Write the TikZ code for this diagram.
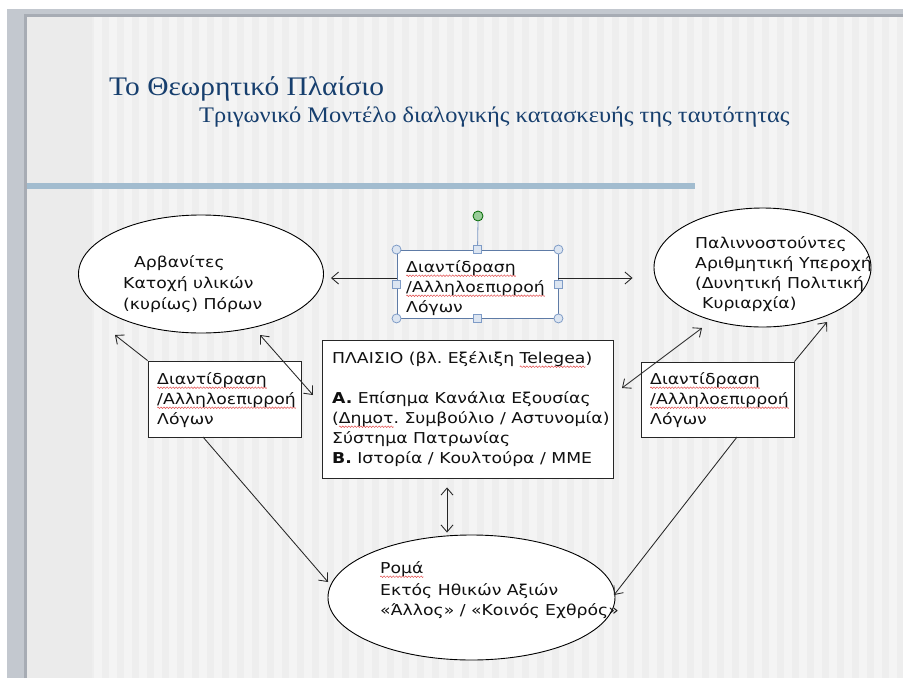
\documentclass[tikz,border=0pt]{standalone}
\usepackage{fontspec}
\setmainfont{DejaVu Sans}[FakeStretch=1.15]
\newfontfamily\titlefont{Liberation Serif}[FakeStretch=1.1]
\usetikzlibrary{arrows.meta,calc,shapes.geometric}
\newsavebox\wavebox
\newcommand\redwave[1]{\setbox0\hbox{#1}\leavevmode\rlap{\raisebox{-3.5pt}{\hbox to \wd0{\xleaders\copy\wavebox\hfill}}}\box0}
\definecolor{framegray}{HTML}{C3C8CF}
\definecolor{shadowgray}{HTML}{A7ACB4}
\definecolor{slidebg}{HTML}{F4F4F4}
\definecolor{stripe}{HTML}{ECECEC}
\definecolor{bluebar}{HTML}{A2BCCF}
\definecolor{titleblue}{HTML}{173F6E}
\definecolor{hdl}{HTML}{7F9CC7}
\definecolor{hdlfill}{HTML}{DCE5F1}
\definecolor{selbox}{HTML}{5E7BA6}
\definecolor{txt}{HTML}{101010}
\definecolor{wavered}{HTML}{E04040}
\begin{document}
\frenchspacing
\sbox\wavebox{\pgfpicture
  \pgfsetbaseline{0pt}%
  \pgfpathrectangle{\pgfpoint{0pt}{-1pt}}{\pgfpoint{3pt}{2pt}}\pgfusepath{use as bounding box}%
  \pgfsetstrokecolor{wavered}\pgfsetlinewidth{0.45pt}%
  \pgfpathmoveto{\pgfpoint{0pt}{0pt}}%
  \pgfpathsine{\pgfpoint{0.75pt}{0.8pt}}%
  \pgfpathcosine{\pgfpoint{0.75pt}{-0.8pt}}%
  \pgfpathsine{\pgfpoint{0.75pt}{-0.8pt}}%
  \pgfpathcosine{\pgfpoint{0.75pt}{0.8pt}}%
  \pgfusepath{stroke}%
\endpgfpicture}%
\begin{tikzpicture}[x=1pt,y=-1pt,
  ell/.style={ellipse, draw=black, line width=0.9pt, fill=white, inner sep=0pt},
  bx/.style={rectangle, draw=black!85, line width=0.9pt, fill=white, inner sep=0pt},
  tx/.style={anchor=north west, inner sep=0pt, align=left, text=txt,
    font=\fontsize{15}{20}\selectfont},
  arr/.style={draw=black!85, line width=0.85pt, -{Straight Barb[length=7pt,width=12pt]}},
  darr/.style={draw=black!85, line width=0.85pt, {Straight Barb[length=7pt,width=12pt]}-{Straight Barb[length=7pt,width=12pt]}},
  hcirc/.style={circle, draw=hdl, fill=hdlfill, line width=0.8pt, minimum size=9pt, inner sep=0pt},
  hsq/.style={rectangle, draw=hdl, fill=hdlfill, line width=0.8pt, minimum size=8pt, inner sep=0pt}
]
\useasboundingbox (0,0) rectangle (903,678);
% background / slide
\fill[white] (0,0) rectangle (903,678);
\fill[framegray] (7,9) rectangle (903,678);
\fill[slidebg] (27,17) rectangle (903,678);
\fill[black, opacity=0.035] (27,17) rectangle (92,678);
\foreach \x in {27,42,...,897} \fill[stripe, opacity=0.7] (\x,17) rectangle (\x+7,678);
\draw[shadowgray, line width=3pt] (25.5,678) -- (25.5,15.5) -- (903,15.5);
% blue bar
\draw[bluebar, line width=6pt] (27,186) -- (695,186);
% titles
\node[anchor=base west, inner sep=0pt, text=titleblue, font=\titlefont\fontsize{26.8}{26.8}\selectfont] (title) at (109,95) {Το Θεωρητικό Πλαίσιο};
\node[anchor=base west, inner sep=0pt, text=titleblue, font=\titlefont\fontsize{22.2}{22.2}\selectfont] (subtitle) at (199,122) {Τριγωνικό Μοντέλο διαλογικής κατασκευής της ταυτότητας};
% shapes
\node[ell, minimum width=245pt, minimum height=118pt] (lell) at (201,274) {};
\node[ell, minimum width=217pt, minimum height=119pt] (rell) at (762.5,267.5) {};
\node[ell, minimum width=287pt, minimum height=125pt] (bell) at (471.5,597.5) {};
\node[bx, draw=selbox, minimum width=161pt, minimum height=68pt] (mbox) at (477.5,284) {};
\node[bx, minimum width=291pt, minimum height=138pt] (cbox) at (467.5,409) {};
\node[bx, minimum width=153pt, minimum height=76pt] (lbox) at (224.5,399) {};
\node[bx, minimum width=153pt, minimum height=75pt] (rbox) at (717.5,399.5) {};
% texts (baseline of first line = y + 14)
\node[tx] (lelltext) at (123,253) {\rule{0pt}{14pt}\hspace*{11pt}Αρβανίτες\\[1pt]Κατοχή υλικών\\[1pt](κυρίως) Πόρων};
\node[tx] (relltext) at (695,234) {\rule{0pt}{14pt}Παλιννοστούντες\\Αριθμητική Υπεροχή\\(Δυνητική Πολιτική\\\hspace*{7pt}Κυριαρχία)};
\node[tx] (belltext) at (380,559) {\rule{0pt}{14pt}\redwave{Ρομά}\\[2pt]Εκτός Ηθικών Αξιών\\«Άλλος» / «Κοινός Εχθρός»};
\node[tx] (mboxtext) at (406,258) {\rule{0pt}{14pt}\redwave{Διαντίδραση}\\\redwave{/Αλληλοεπιρροή}\\Λόγων};
\node[tx] (lboxtext) at (157,370) {\rule{0pt}{14pt}\redwave{Διαντίδραση}\\\redwave{/Αλληλοεπιρροή}\\Λόγων};
\node[tx] (rboxtext) at (650,370) {\rule{0pt}{14pt}\redwave{Διαντίδραση}\\\redwave{/Αλληλοεπιρροή}\\Λόγων};
\node[tx] (cboxtext) at (332,349) {\rule{0pt}{14pt}ΠΛΑΙΣΙΟ (βλ. Εξέλιξη \redwave{Telegea})\\[20pt]\textbf{A.} Επίσημα Κανάλια Εξουσίας\\(\redwave{Δημοτ}. Συμβούλιο / Αστυνομία)\\Σύστημα Πατρωνίας\\\textbf{B.} Ιστορία / Κουλτούρα / ΜΜΕ};
% selection handles of the middle text box
\node[circle, draw=green!40!black, fill=green!50!black!40!white, line width=0.8pt, minimum size=10pt, inner sep=0pt] (rot) at (478,216) {};
\draw[hdl, line width=0.8pt] (rot.south) -- (mbox.north);
\foreach \a in {north west,north east,south west,south east} \node[hcirc] at (mbox.\a) {};
\foreach \a in {north,south,west,east} \node[hsq] at (mbox.\a) {};
% connector end points
\coordinate (p1) at (115,335);
\coordinate (p2a) at (260,335);
\coordinate (p2b) at (313,395);
\coordinate (p3a) at (702,328);
\coordinate (p3b) at (622,388);
\coordinate (p4) at (827,322);
\coordinate (p5a) at (203,437);
\coordinate (p5b) at (328,582);
\coordinate (p6a) at (737,437);
\coordinate (p6b) at (614,595);
% connectors
\draw[arr, shorten >=7pt] ([yshift=6pt]mbox.west) -- ([yshift=6pt]mbox.west -| lell.east);
\draw[arr, shorten >=21pt] ([yshift=6pt]mbox.east) -- ([yshift=6pt]mbox.east -| rell.west);
\draw[arr] (lbox.north west) -- (p1);
\draw[darr] (p2a) -- (p2b);
\draw[darr] (p3a) -- (p3b);
\draw[arr] (rbox.north east) -- (p4);
\draw[arr] (p5a) -- (p5b);
\draw[arr] (p6a) -- (p6b);
\draw[darr, shorten <=9pt, shorten >=2pt] ([xshift=-20.5pt]cbox.south) -- ([xshift=-20.5pt]cbox.south |- bell.north);
\end{tikzpicture}
\end{document}
